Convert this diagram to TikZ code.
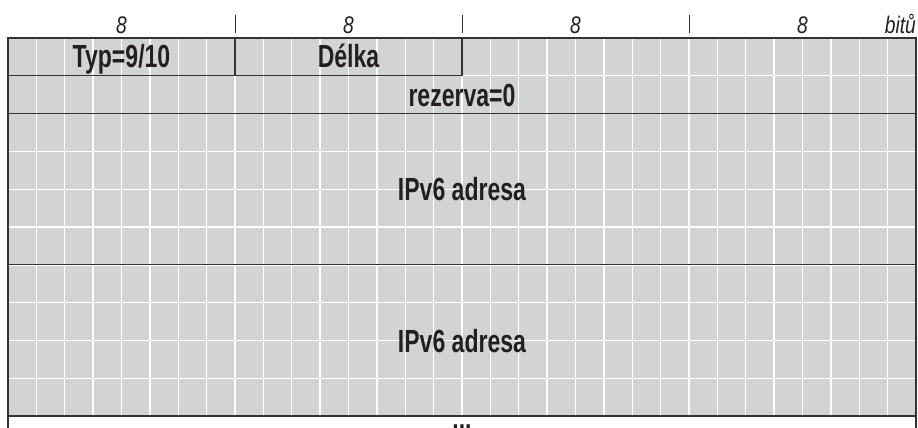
\documentclass[tikz,border=0pt]{standalone}
\usepackage{fontspec}
\setmainfont{Liberation Sans}[FakeStretch=0.72]
\newfontfamily\widthfont{Liberation Sans}[FakeStretch=0.8]
\usepackage{tikz}
\definecolor{cellgray}{HTML}{D1D3D4}
\definecolor{linedark}{HTML}{333333}
\definecolor{textdark}{HTML}{231F20}

\begin{document}
\begin{tikzpicture}[x=28.375pt,y=-37.8pt,
  fieldtext/.style={font=\fontsize{32}{36}\selectfont\bfseries,text=textdark,anchor=base,inner sep=0pt},
  bitlabel/.style={font=\widthfont\fontsize{24}{28}\selectfont\itshape,text=textdark,anchor=base,inner sep=0pt},
  gridline/.style={white,line width=1.4pt},
  fieldline/.style={linedark,line width=1.2pt}]
\useasboundingbox (-8pt,38pt) rectangle (910pt,-390pt);

\fill[cellgray] (0,0) rectangle (32,10);
\foreach \x in {1,...,31} {
\draw[gridline] (\x,0) -- (\x,10);
}
\foreach \y in {1,...,9} {
\draw[gridline] (0,\y) -- (32,\y);
}

% field borders
\draw[fieldline] (0,1) -- (16,1) -- (16,0);
\draw[fieldline] (8,0) -- (8,1);
\foreach \y in {2,6,10} {
\draw[fieldline] (0,\y) -- (32,\y);
}
\draw[linedark,line width=2.4pt] (0,10.4) -- (0,0) -- (32,0) -- (32,10.4);

% bit widths
\foreach \x in {4,12,20,28} {
\node[bitlabel] (w\x) at (\x,-0.13) {8};
}
\foreach \x in {8,16,24} {
\draw[linedark,line width=0.8pt] (\x,-0.61) -- (\x,-0.13);
}
\node[bitlabel,anchor=base east] (bitu) at (32,-0.13) {bitů};

\node[fieldtext] (typ) at (4,0.79) {Typ=9/10};
\node[fieldtext] (delka) at (12,0.79) {Délka};
\node[fieldtext] (rezerva) at (16,1.82) {rezerva=0};
\node[fieldtext] (addr1) at (16,4.31) {IPv6 adresa};
\node[fieldtext] (addr2) at (16,8.31) {IPv6 adresa};
\node[fieldtext,anchor=north] (dots) at (16,10.22) {...};
\end{tikzpicture}
\end{document}
